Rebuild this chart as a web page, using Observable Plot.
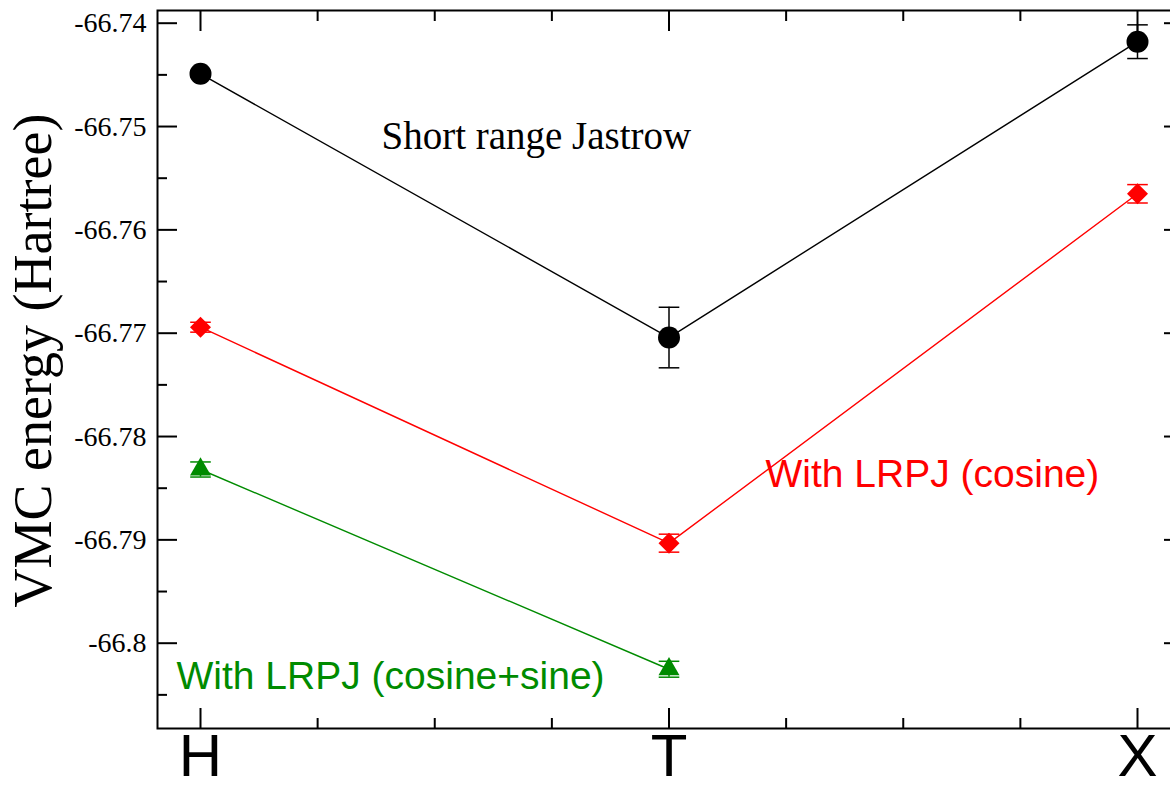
<!DOCTYPE html>
<html>
<head>
<meta charset="utf-8">
<script src="https://cdn.jsdelivr.net/npm/d3@7"></script>
<script src="https://cdn.jsdelivr.net/npm/@observablehq/plot@0.6"></script>
<style>
  html, body { margin: 0; padding: 0; background: white; overflow: hidden; }
  #chart svg { display: block; max-width: none !important; width: 1184px !important; height: 788px !important; }
</style>
</head>
<body>
<div id="chart"></div>
<script>
// ---- data ----
const kPoints = ["H", "T", "X"];
const kPos = [0, 1, 2];

const shortRange = [-66.7449, -66.77042, -66.74179];
const shortRangeErr = [0.0003, 0.00293, 0.00163];

const cosine = [-66.76942, -66.79032, -66.75651];
const cosineErr = [0.00048, 0.00087, 0.00089];

const cosineSine = [-66.78319, -66.80252];
const cosineSineErr = [0.00073, 0.00077];

const yTickValues = [-66.74, -66.75, -66.76, -66.77, -66.78, -66.79, -66.80];
const yTickLabels = ["-66.74", "-66.75", "-66.76", "-66.77", "-66.78", "-66.79", "-66.8"];
const yMinorTicks = [-66.745, -66.755, -66.765, -66.775, -66.785, -66.795, -66.805];
const xMinorTicks = [0.25, 0.5, 0.75, 1.25, 1.5, 1.75];

const labelTexts = ["Short range Jastrow", "With LRPJ (cosine)", "With LRPJ (cosine+sine)"];
const labelX = [0.3863, 1.206, -0.0512];
const labelY = [-66.75097, -66.78372, -66.80318];

// ---- build ----
const BLACK = "#000000", RED = "#ff0000", GREEN = "#008b00";
function series(vals, errs, name) {
  return vals.map((v, i) => ({x: kPos[i], y: v, err: errs[i], name}));
}
const sBlack = series(shortRange, shortRangeErr, "short");
const sRed = series(cosine, cosineErr, "cosine");
const sGreen = series(cosineSine, cosineSineErr, "cosine+sine");

const capSymbol = {
  draw(context, size) {
    const r = Math.sqrt(size / Math.PI);
    context.moveTo(-r, 0);
    context.lineTo(r, 0);
  }
};

function errorMarks(data, color) {
  return [
    Plot.ruleX(data, {x: "x", y1: d => d.y - d.err, y2: d => d.y + d.err, stroke: color, strokeWidth: 1.5}),
    Plot.dot(data, {x: "x", y: d => d.y - d.err, symbol: capSymbol, r: 10.3, fill: "none", stroke: color, strokeWidth: 1.5}),
    Plot.dot(data, {x: "x", y: d => d.y + d.err, symbol: capSymbol, r: 10.3, fill: "none", stroke: color, strokeWidth: 1.5})
  ];
}

const serif = "'Liberation Serif', 'Times New Roman', serif";
const sans = "'Liberation Sans', Arial, sans-serif";
const labelColors = [BLACK, RED, GREEN];
const labelFonts = [serif, sans, sans];
const labelSizes = [39, 39, 39];
const labelMarks = labelTexts.map((t, i) =>
  Plot.text([{t, x: labelX[i], y: labelY[i]}], {x: "x", y: "y", text: "t", fill: labelColors[i], fontFamily: labelFonts[i], fontSize: labelSizes[i], textAnchor: "start"})
);

const chart = Plot.plot({
  width: 1184,
  height: 788,
  marginLeft: 157,
  marginRight: 1,
  marginTop: 10,
  marginBottom: 60,
  x: {domain: [0, 2], range: [200, 1137]},
  y: {domain: [-66.80, -66.74], range: [642.7, 22.7]},
  style: {background: "white", overflow: "visible"},
  marks: [
    // ticks (inward)
    Plot.axisY(yTickValues, {anchor: "left", tickSize: -20, strokeWidth: 2, tickFormat: () => "", label: null}),
    Plot.axisY(yMinorTicks, {anchor: "left", tickSize: -10, strokeWidth: 2, tickFormat: () => "", label: null}),
    Plot.axisY(yTickValues, {anchor: "right", tickSize: -20, strokeWidth: 2, tickFormat: () => "", label: null}),
    Plot.axisY(yMinorTicks, {anchor: "right", tickSize: -10, strokeWidth: 2, tickFormat: () => "", label: null}),
    Plot.axisX(kPos, {anchor: "bottom", tickSize: -20, strokeWidth: 2, tickFormat: () => "", label: null}),
    Plot.axisX(xMinorTicks, {anchor: "bottom", tickSize: -10, strokeWidth: 2, tickFormat: () => "", label: null}),
    Plot.axisX(kPos, {anchor: "top", tickSize: -20, strokeWidth: 2, tickFormat: () => "", label: null}),
    Plot.axisX(xMinorTicks, {anchor: "top", tickSize: -10, strokeWidth: 2, tickFormat: () => "", label: null}),
    // tick labels
    Plot.axisY(yTickValues, {anchor: "left", tickSize: 0, tickPadding: 11, fontSize: 28, fontFamily: serif, fill: "black",
      tickFormat: d => yTickLabels[yTickValues.indexOf(d)], label: null}),
    Plot.axisX(kPos, {anchor: "bottom", tickSize: 0, tickPadding: 5, fontSize: 60, fontFamily: sans, fill: "black",
      tickFormat: d => kPoints[kPos.indexOf(d)], label: null}),
    Plot.frame({stroke: "black", strokeWidth: 2}),
    // y title
    Plot.text(["VMC energy (Hartree)"], {frameAnchor: "left", rotate: -90, dx: -124, dy: -9, fontSize: 54, fontFamily: serif, fill: "black", textAnchor: "middle"}),
    // lines
    Plot.line(sBlack, {x: "x", y: "y", stroke: BLACK, strokeWidth: 1.4}),
    Plot.line(sRed, {x: "x", y: "y", stroke: RED, strokeWidth: 1.4}),
    Plot.line(sGreen, {x: "x", y: "y", stroke: GREEN, strokeWidth: 1.4}),
    // error bars
    ...errorMarks(sBlack, BLACK),
    ...errorMarks(sRed, RED),
    ...errorMarks(sGreen, GREEN),
    // markers
    Plot.dot(sBlack, {x: "x", y: "y", r: 11, symbol: "circle", fill: BLACK, stroke: "none"}),
    Plot.dot(sRed, {x: "x", y: "y", r: 9.46, symbol: "diamond2", fill: RED, stroke: "none"}),
    Plot.dot(sGreen, {x: "x", y: "y", r: 7.8, symbol: "triangle", fill: GREEN, stroke: "none"}),
    // annotations
    ...labelMarks
  ]
});
document.getElementById("chart").appendChild(chart);
</script>
</body>
</html>
